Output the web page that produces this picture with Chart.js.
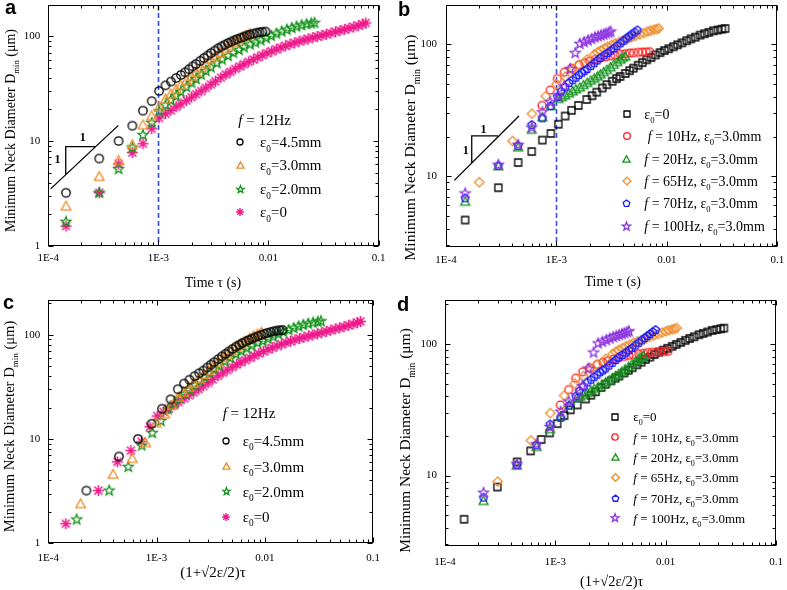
<!DOCTYPE html>
<html>
<head>
<meta charset="utf-8">
<script src="https://cdn.jsdelivr.net/npm/chart.js@4.4.0/dist/chart.umd.min.js"></script>
<style>
html,body{margin:0;padding:0;background:#fff;}
#wrap{position:relative;width:787px;height:590px;overflow:hidden;background:#fff;}
canvas{position:absolute;}
</style>
</head>
<body>
<div id="wrap">
<canvas id="pa" width="393" height="295" style="left:0;top:0"></canvas>
<canvas id="pb" width="394" height="295" style="left:393px;top:0"></canvas>
<canvas id="pc" width="393" height="295" style="left:0;top:295px"></canvas>
<canvas id="pd" width="394" height="295" style="left:393px;top:295px"></canvas>
</div>
<script>
// axis ticks
const xTickVals=[1e-4,1e-3,1e-2,1e-1];
const xTickLabels=['1E-4','1E-3','0.01','0.1'];
const yTickValsAC=[1,10,100];
const yTickLabelsAC=['1','10','100'];
const yTickValsBD=[10,100];
const yTickLabelsBD=['10','100'];

// panel a: time (s) and neck diameter (um), f = 12Hz
const aT45=[1.45e-4,2.9e-4,4.35e-4,5.8e-4,7.25e-4,8.7e-4,1.015e-3,1.16e-3,1.3e-3,1.45e-3,1.6e-3,1.75e-3,1.9e-3,2.05e-3,2.2e-3,2.4e-3,2.6e-3,2.8e-3,3.0e-3,3.25e-3,3.5e-3,3.75e-3,4.0e-3,4.3e-3,4.6e-3,4.9e-3,5.2e-3,5.6e-3,6.0e-3,6.4e-3,6.8e-3,7.3e-3,7.8e-3,8.3e-3,8.8e-3,9.4e-3];
const aD45=[3.2,6.8,10,14,19.5,24,30,34,37,40,42.7,45.3,48.5,51.7,54.5,58.3,62,65.5,69,73,76.8,80,83,86.2,89,91.5,94,96.8,99.5,102,104,106,108,109.3,110.3,111];
const aT30=[1.45e-4,2.9e-4,4.35e-4,5.8e-4,7.25e-4,8.7e-4,1.015e-3,1.16e-3,1.3e-3,1.45e-3,1.6e-3,1.8e-3,2.0e-3,2.2e-3,2.45e-3,2.7e-3,3.0e-3,3.3e-3,3.6e-3,4.0e-3,4.4e-3,4.8e-3,5.3e-3,5.8e-3,6.3e-3,6.8e-3];
const aD30=[2.38,4.56,6.47,9.16,14.2,17.3,21,25,28,31,34,37.5,41.5,45,50,54.5,60,65,70,76,81,86,92,97,101,105];
const aT20=[1.45e-4,2.9e-4,4.35e-4,5.8e-4,7.25e-4,8.7e-4,1.015e-3,1.16e-3,1.3e-3,1.45e-3,1.6e-3,1.8e-3,2.0e-3,2.2e-3,2.45e-3,2.7e-3,3.0e-3,3.4e-3,3.8e-3,4.3e-3,4.8e-3,5.4e-3,6.0e-3,6.8e-3,7.6e-3,8.5e-3,9.5e-3,1.06e-2,1.18e-2,1.32e-2,1.47e-2,1.63e-2,1.8e-2,2.0e-2,2.22e-2,2.45e-2,2.62e-2];
const aD20=[1.69,3.2,5.4,8.65,11.4,14.9,19.2,22,24.5,27,29.5,32.7,36,39,43,46.5,50.5,55.5,60,65,69.5,74,78.5,83.5,87,91.5,96,101,106,111,115.5,120,124,127.5,130.5,133,134.5];
const aT00=[1.45e-4,2.9e-4,4.35e-4,5.8e-4,7.25e-4,8.7e-4,1.015e-3,1.16e-3,1.3e-3,1.45e-3,1.6e-3,1.8e-3,2.0e-3,2.2e-3,2.45e-3,2.7e-3,3.0e-3,3.3e-3,3.7e-3,4.1e-3,4.5e-3,5.0e-3,5.5e-3,6.0e-3,6.6e-3,7.3e-3,8.0e-3,8.8e-3,9.7e-3,1.07e-2,1.18e-2,1.3e-2,1.43e-2,1.57e-2,1.73e-2,1.9e-2,2.1e-2,2.3e-2,2.53e-2,2.78e-2,3.06e-2,3.36e-2,3.7e-2,4.07e-2,4.47e-2,4.92e-2,5.4e-2,5.95e-2,6.55e-2,7.2e-2,7.65e-2];
const aD00=[1.54,3.2,6.03,7.74,9.42,13.1,16.6,18.2,19.6,21.2,22.6,24.4,26.2,28,30,32.2,34.6,37.2,40.3,43.2,45.8,48.8,51.6,54.2,57,60,63,66,69,72,75,78,81,84,86.5,89.5,92,94.5,97,99.5,102,104.5,107.5,110.5,113.5,116.5,119.5,123,126.5,130.5,134];

// panel c: scaled time (1+sqrt2 e/2)tau, same diameters as panel a
const cT45=[2.25e-4,4.5e-4,6.74e-4,8.99e-4,1.124e-3,1.349e-3,1.573e-3,1.798e-3,2.015e-3,2.248e-3,2.48e-3,2.713e-3,2.945e-3,3.178e-3,3.41e-3,3.72e-3,4.03e-3,4.34e-3,4.65e-3,5.038e-3,5.425e-3,5.813e-3,6.2e-3,6.665e-3,7.13e-3,7.595e-3,8.06e-3,8.68e-3,9.3e-3,9.92e-3,1.054e-2,1.1315e-2,1.209e-2,1.2865e-2,1.364e-2,1.457e-2];
const cT30=[1.99e-4,3.97e-4,5.96e-4,7.95e-4,9.93e-4,1.192e-3,1.391e-3,1.589e-3,1.781e-3,1.987e-3,2.192e-3,2.466e-3,2.74e-3,3.014e-3,3.357e-3,3.699e-3,4.11e-3,4.521e-3,4.932e-3,5.48e-3,6.028e-3,6.576e-3,7.261e-3,7.946e-3,8.631e-3,9.316e-3];
const cT20=[1.827e-4,3.654e-4,5.481e-4,7.308e-4,9.135e-4,1.096e-3,1.279e-3,1.462e-3,1.638e-3,1.827e-3,2.016e-3,2.268e-3,2.52e-3,2.772e-3,3.087e-3,3.402e-3,3.78e-3,4.284e-3,4.788e-3,5.418e-3,6.048e-3,6.804e-3,7.56e-3,8.568e-3,9.576e-3,1.071e-2,1.197e-2,1.336e-2,1.487e-2,1.663e-2,1.852e-2,2.054e-2,2.268e-2,2.52e-2,2.797e-2,3.087e-2,3.301e-2];
const cT00=aT00;

// panel b: time (s), different frequencies
const bT0=[1.49e-4,2.98e-4,4.5e-4,5.97e-4,7.45e-4,8.9e-4,1.04e-3,1.2e-3,1.37e-3,1.58e-3,1.88e-3,2.1e-3,2.32e-3,2.6e-3,2.86e-3,3.2e-3,3.5e-3,3.77e-3,4.2e-3,4.6e-3,4.98e-3,5.5e-3,6.0e-3,6.57e-3,7.2e-3,7.9e-3,8.67e-3,9.5e-3,1.04e-2,1.145e-2,1.25e-2,1.37e-2,1.51e-2,1.65e-2,1.81e-2,2.0e-2,2.19e-2,2.4e-2,2.64e-2,2.9e-2,3.15e-2,3.37e-2];
const bD0=[4.65,8.18,12.7,15.4,18.8,21.1,24.8,28.6,31.6,34.4,38.2,40.8,43.4,46.7,49.5,52.5,55,57.1,60.2,63.2,66,69.5,72.8,76.4,79.5,83.2,86.7,89.8,92.7,96,99.3,102.8,106.6,110.2,113.5,117.7,120.5,123.5,126.8,128.7,130.5,132];
const bT10=[7.4e-4,8.8e-4,1.02e-3,1.18e-3,1.37e-3,1.6e-3,1.8e-3,2.0e-3,2.25e-3,2.5e-3,2.8e-3,3.1e-3,3.4e-3,3.8e-3,4.2e-3,4.6e-3,5.0e-3,5.5e-3,6.0e-3,6.5e-3,7.0e-3];
const bD10=[34.4,45,55,61.5,66,70,72.5,74.5,77,79,80.5,82,83,84.2,85,86,86.5,87,87.5,87.8,88];
const bT20=[1.49e-4,2.98e-4,4.5e-4,5.97e-4,7.45e-4,8.9e-4,1.04e-3,1.12e-3,1.2e-3,1.3e-3,1.4e-3,1.5e-3,1.63e-3,1.76e-3,1.9e-3,2.05e-3,2.2e-3,2.35e-3,2.5e-3,2.68e-3,2.86e-3,3.08e-3,3.3e-3,3.55e-3,3.8e-3,4.0e-3,4.2e-3];
const bD20=[6.4,11.9,16.5,22.5,28,34,38.5,39.7,41,42.5,44,45.5,47,49,51,53,55,57,59,61.5,64,67,70,73.3,76.5,79,81];
const bT65=[2.0e-4,4.0e-4,6.0e-4,8.0e-4,1.0e-3,1.2e-3,1.4e-3,1.6e-3,1.9e-3,2.2e-3,2.35e-3,2.5e-3,2.7e-3,2.9e-3,3.15e-3,3.4e-3,3.7e-3,4.0e-3,4.4e-3,4.8e-3,5.2e-3,5.7e-3,6.2e-3,6.7e-3,7.1e-3,7.6e-3,8.0e-3,8.4e-3];
const bD65=[9.0,18.5,29.8,40.5,50,57,64,70,77,84,87,90,93,96,99,102,104.5,107,110,113,116,119,122,125,127,129,130.5,132];
const bT70=[1.49e-4,2.98e-4,4.5e-4,5.97e-4,7.45e-4,8.87e-4,1.02e-3,1.1e-3,1.2e-3,1.3e-3,1.4e-3,1.5e-3,1.6e-3,1.7e-3,1.8e-3,1.9e-3,2.05e-3,2.2e-3,2.35e-3,2.5e-3,2.7e-3,2.9e-3,3.1e-3,3.3e-3,3.55e-3,3.8e-3,4.05e-3,4.3e-3,4.55e-3,4.8e-3,5.1e-3,5.4e-3];
const bD70=[6.8,12,17,24.5,27.5,34,40,44,47.5,51,53.5,56,58.5,61,63,65,68.5,72,75.5,79,82.5,86,89.5,93,97.5,102,106.5,111,115,119,123.5,128];
const bT100=[1.49e-4,2.98e-4,4.5e-4,5.97e-4,7.45e-4,8.8e-4,1.04e-3,1.17e-3,1.33e-3,1.48e-3,1.63e-3,1.78e-3,1.93e-3,2.08e-3,2.23e-3,2.38e-3,2.53e-3,2.68e-3,2.83e-3,2.98e-3,3.1e-3];
const bD100=[7.4,12.2,17.3,23.4,30.6,36.5,41,48,65,86,101,104,107,110,113,115,117,119,121,123,125];

// panel d: scaled time, same diameters as panel b
const dT0=bT0;
const dT10=[1.11e-3,1.32e-3,1.53e-3,1.77e-3,2.055e-3,2.4e-3,2.7e-3,3.0e-3,3.375e-3,3.75e-3,4.2e-3,4.65e-3,5.1e-3,5.7e-3,6.3e-3,6.9e-3,7.5e-3,8.25e-3,9.0e-3,9.75e-3,1.05e-2];
const dT20=[2.235e-4,4.47e-4,6.75e-4,8.955e-4,1.118e-3,1.335e-3,1.56e-3,1.68e-3,1.8e-3,1.95e-3,2.1e-3,2.25e-3,2.445e-3,2.64e-3,2.85e-3,3.075e-3,3.3e-3,3.525e-3,3.75e-3,4.02e-3,4.29e-3,4.62e-3,4.95e-3,5.325e-3,5.7e-3,6.0e-3,6.3e-3];
const dT65=[3.0e-4,6.0e-4,9.0e-4,1.2e-3,1.5e-3,1.8e-3,2.1e-3,2.4e-3,2.85e-3,3.3e-3,3.525e-3,3.75e-3,4.05e-3,4.35e-3,4.725e-3,5.1e-3,5.55e-3,6.0e-3,6.6e-3,7.2e-3,7.8e-3,8.55e-3,9.3e-3,1.005e-2,1.065e-2,1.14e-2,1.2e-2,1.26e-2];
const dT70=[2.235e-4,4.47e-4,6.75e-4,8.955e-4,1.118e-3,1.331e-3,1.53e-3,1.65e-3,1.8e-3,1.95e-3,2.1e-3,2.25e-3,2.4e-3,2.55e-3,2.7e-3,2.85e-3,3.075e-3,3.3e-3,3.525e-3,3.75e-3,4.05e-3,4.35e-3,4.65e-3,4.95e-3,5.325e-3,5.7e-3,6.075e-3,6.45e-3,6.825e-3,7.2e-3,7.65e-3,8.1e-3];
const dT100=[2.235e-4,4.47e-4,6.75e-4,8.955e-4,1.118e-3,1.32e-3,1.56e-3,1.755e-3,1.995e-3,2.22e-3,2.445e-3,2.67e-3,2.895e-3,3.12e-3,3.345e-3,3.57e-3,3.795e-3,4.02e-3,4.245e-3,4.47e-3,4.65e-3];

const SERIF='"Liberation Serif"';
const cBlack='#000000',cOrange='#f08c28',cGreen='#12921a',cPink='#ee1a8c';
const cRed='#ff1c1c',cBlue='#1a1aff',cPurple='#8c34e0';

// marker sprites (drawn as canvas point styles)
function mk(shape,color,r,lw){
  const s=Math.ceil(2*r+lw+4);
  const c=document.createElement('canvas');
  c.width=c.height=s;
  const g=c.getContext('2d');
  const o=s/2;
  g.strokeStyle=color;g.lineWidth=lw;g.lineJoin='miter';
  g.beginPath();
  if(shape==='circle'){g.arc(o,o,r,0,Math.PI*2);}
  else if(shape==='square'){g.rect(o-r,o-r,2*r,2*r);}
  else if(shape==='tri'){g.moveTo(o,o-r*1.05);g.lineTo(o+r,o+r*0.75);g.lineTo(o-r,o+r*0.75);g.closePath();}
  else if(shape==='diamond'){g.moveTo(o,o-r);g.lineTo(o+r,o);g.lineTo(o,o+r);g.lineTo(o-r,o);g.closePath();}
  else if(shape==='pent'){for(let k=0;k<5;k++){const a=-Math.PI/2+k*2*Math.PI/5;const px=o+r*Math.cos(a),py=o+r*Math.sin(a);k?g.lineTo(px,py):g.moveTo(px,py);}g.closePath();}
  else if(shape==='star'){for(let k=0;k<10;k++){const a=-Math.PI/2+k*Math.PI/5;const rr=k%2?r*0.42:r;const px=o+rr*Math.cos(a),py=o+rr*Math.sin(a);k?g.lineTo(px,py):g.moveTo(px,py);}g.closePath();}
  else if(shape==='ast'){for(let k=0;k<4;k++){const a=k*Math.PI/4;g.moveTo(o-r*Math.cos(a),o-r*Math.sin(a));g.lineTo(o+r*Math.cos(a),o+r*Math.sin(a));}}
  g.stroke();
  return c;
}

function rich(ctx,parts,x,y,size,align){
  const f=p=>(p[1].includes('i')?'italic ':'')+(p[1].includes('b')?'bold ':'')+(p[1].includes('s')?size*0.62:size)+'px '+SERIF;
  let w=0;
  parts.forEach(p=>{ctx.font=f(p);w+=ctx.measureText(p[0]).width;});
  let cx=align==='center'?x-w/2:x;
  ctx.textAlign='left';ctx.textBaseline='alphabetic';ctx.fillStyle='#000';
  parts.forEach(p=>{ctx.font=f(p);ctx.fillText(p[0],cx,y+(p[1].includes('s')?size*0.32:0));cx+=ctx.measureText(p[0]).width;});
}

const yTitle=[['Minimum Neck Diameter D',''],['min','s'],[' (\u03bcm)','']];
const eps=(v)=>[['\u03b5',''],['0','s'],['='+v,'']];
const fe=(f,lead)=>[[lead?' ':'',''],['f','i'],[' = '+f+', \u03b5',''],['0','s'],['=3.0mm','']];

const decoCfg={
  pa:{letter:['a',5,13.5],yt:[10,130.5,14],xt:[[['Time \u03c4 (s)','']],213,282,14],dashX:1e-3,
    slope:{line:[[1.05e-4,3.49],[4.33e-4,14.1]],tri:[[1.44e-4,4.78],[1.44e-4,8.83],[2.7e-4,8.83]],labels:[[2.06e-4,10.7],[1.21e-4,6.56]]},
    legend:{mx:240,tx:260,size:15,header:[238.3,120,[['f','i'],[' = 12Hz','']]],
      items:[[mk('circle',cBlack,3,1.3),142,eps('4.5mm')],[mk('tri',cOrange,3.5,1.3),165.5,eps('3.0mm')],[mk('star',cGreen,3.8,1.3),189,eps('2.0mm')],[mk('ast',cPink,3.9,1.4),212,eps('0')]]}},
  pb:{letter:['b',5,16],yt:[16.5,147.5,15.6],xt:[[['Time \u03c4 (s)','']],219.7,281.7,14],dashX:1e-3,
    slope:{line:[[1.19e-4,9.3],[4.58e-4,28.6]],tri:[[1.71e-4,12.6],[1.71e-4,20.2],[2.95e-4,20.2]],labels:[[2.18e-4,22.4],[1.51e-4,15.6]]},
    legend:{mx:233.7,tx:251.3,size:14,header:null,
      items:[[mk('square',cBlack,3,1.3),114,eps('0')],[mk('circle',cRed,3.3,1.3),136,fe('10Hz',true)],[mk('tri',cGreen,3.6,1.3),159.3,fe('20Hz')],[mk('diamond',cOrange,3.9,1.3),181,fe('65Hz')],[mk('pent',cBlue,3.5,1.3),203.3,fe('70Hz')],[mk('star',cPurple,4.4,1.3),226,fe('100Hz')]]}},
  pc:{letter:['c',3,13.5],yt:[9,131.5,14.6],xt:[[['(1+\u221a2\u03b5/2)\u03c4','']],213,276.7,15],
    legend:{mx:226,tx:242.7,size:15,header:[222.7,117.7,[['f','i'],[' = 12Hz','']]],
      items:[[mk('circle',cBlack,3,1.3),145.7,eps('4.5mm')],[mk('tri',cOrange,3.5,1.3),171.7,eps('3.0mm')],[mk('star',cGreen,3.8,1.3),196.7,eps('2.0mm')],[mk('ast',cPink,3.9,1.4),221.7,eps('0')]]}},
  pd:{letter:['d',4,16],yt:[12,145.5,15.5],xt:[[['(1+\u221a2\u03b5/2)\u03c4','']],218.7,286,14.5],
    legend:{mx:222,tx:240.3,size:13,header:null,
      items:[[mk('square',cBlack,3,1.3),121.7,eps('0')],[mk('circle',cRed,3.2,1.3),142.3,fe('10Hz')],[mk('tri',cGreen,3.5,1.3),162.7,fe('20Hz')],[mk('diamond',cOrange,3.8,1.3),182.7,fe('65Hz')],[mk('pent',cBlue,3.4,1.3),203.3,fe('70Hz')],[mk('star',cPurple,4.2,1.3),223.3,fe('100Hz')]]}}
};

const deco={
  id:'deco',
  beforeDatasetsDraw(chart){
    const o=decoCfg[chart.canvas.id];if(!o||!o.dashX)return;
    const ctx=chart.ctx,{top,bottom}=chart.chartArea;
    const x=Math.round(chart.scales.x.getPixelForValue(o.dashX))+0.5;
    ctx.save();ctx.strokeStyle='#3050ff';ctx.lineWidth=1.6;ctx.setLineDash([5,3]);
    ctx.beginPath();ctx.moveTo(x,top);ctx.lineTo(x,bottom);ctx.stroke();ctx.restore();
  },
  afterDraw(chart){
    const o=decoCfg[chart.canvas.id];if(!o)return;
    const ctx=chart.ctx,xs=chart.scales.x,ys=chart.scales.y;
    const {left,right,top,bottom}=chart.chartArea;
    ctx.save();
    ctx.strokeStyle='#000';ctx.lineWidth=1;ctx.setLineDash([]);
    const L=Math.round(left)+0.5,R=Math.round(right)-0.5,T=Math.round(top)+0.5,B=Math.round(bottom)-0.5;
    ctx.strokeRect(L,T,R-L,B-T);
    ctx.beginPath();
    for(let d=Math.floor(Math.log10(xs.min));d<=Math.ceil(Math.log10(xs.max));d++){
      for(let m=1;m<=9;m++){const v=m*Math.pow(10,d);if(v<xs.min*0.999||v>xs.max*1.001)continue;
        const p=Math.round(xs.getPixelForValue(v))+0.5,len=m===1?5:3;
        ctx.moveTo(p,B);ctx.lineTo(p,B-len);ctx.moveTo(p,T);ctx.lineTo(p,T+len);}
    }
    for(let d=Math.floor(Math.log10(ys.min));d<=Math.ceil(Math.log10(ys.max));d++){
      for(let m=1;m<=9;m++){const v=m*Math.pow(10,d);if(v<ys.min*0.999||v>ys.max*1.001)continue;
        const p=Math.round(ys.getPixelForValue(v))+0.5,len=m===1?5:3;
        ctx.moveTo(L,p);ctx.lineTo(L+len,p);ctx.moveTo(R,p);ctx.lineTo(R-len,p);}
    }
    ctx.stroke();
    if(o.slope){
      const P=q=>[xs.getPixelForValue(q[0]),ys.getPixelForValue(q[1])];
      ctx.lineWidth=1.3;ctx.beginPath();
      let a=P(o.slope.line[0]),b=P(o.slope.line[1]);ctx.moveTo(a[0],a[1]);ctx.lineTo(b[0],b[1]);
      o.slope.tri.forEach((q,i)=>{const p=P(q);i?ctx.lineTo(p[0],p[1]):ctx.moveTo(p[0],p[1]);});
      ctx.stroke();
      ctx.fillStyle='#000';ctx.font='bold 12px '+SERIF;ctx.textAlign='center';ctx.textBaseline='middle';
      o.slope.labels.forEach(q=>{const p=P(q);ctx.fillText('1',p[0],p[1]);});
    }
    // axis titles
    ctx.save();ctx.translate(o.yt[0],o.yt[1]);ctx.rotate(-Math.PI/2);
    rich(ctx,yTitle,0,o.yt[2]*0.33,o.yt[2],'center');ctx.restore();
    rich(ctx,o.xt[0],o.xt[1],o.xt[2]+o.xt[3]*0.33,o.xt[3],'center');
    // legend
    const lg=o.legend;
    if(lg.header)rich(ctx,lg.header[2],lg.header[0],lg.header[1]+lg.size*0.33,lg.size,'left');
    lg.items.forEach(it=>{
      const img=it[0];
      ctx.drawImage(img,Math.round(lg.mx-img.width/2),Math.round(it[1]-img.height/2));
      rich(ctx,it[2],lg.tx,it[1]+lg.size*0.33,lg.size,'left');
    });
    ctx.fillStyle='#000';ctx.font='bold 20px "Liberation Sans"';ctx.textAlign='left';ctx.textBaseline='alphabetic';
    ctx.fillText(o.letter[0],o.letter[1],o.letter[2]);
    ctx.restore();
  }
};
Chart.register(deco);

function panel(id,sets,yMin,yMax,yVals,yLabs,box){
  return new Chart(document.getElementById(id),{
    type:'scatter',
    data:{datasets:sets.map(s=>({label:s.label,data:s.x.map((v,j)=>({x:v,y:s.y[j]})),pointStyle:s.img,pointRadius:4,order:s.order,showLine:false}))},
    options:{
      responsive:false,animation:false,events:[],
      layout:{padding:{left:0,top:box.t,right:box.w-box.r,bottom:0}},
      plugins:{legend:{display:false},tooltip:{enabled:false}},
      scales:{
        x:{type:'logarithmic',min:1e-4,max:0.1,grid:{display:false,drawTicks:false},border:{display:false},
          afterBuildTicks:sc=>{sc.ticks=xTickVals.map(v=>({value:v}));},
          afterFit:sc=>{sc.height=box.h-box.b;sc.paddingLeft=0;sc.paddingRight=0;sc.paddingTop=0;sc.paddingBottom=0;},
          ticks:{autoSkip:false,maxRotation:0,padding:box.xPad,color:'#000',font:{family:'Liberation Serif',size:11},callback:(v,i)=>xTickLabels[i]}},
        y:{type:'logarithmic',min:yMin,max:yMax,grid:{display:false,drawTicks:false},border:{display:false},
          afterBuildTicks:sc=>{sc.ticks=yVals.map(v=>({value:v}));},
          afterFit:sc=>{sc.width=box.l;sc.paddingLeft=0;sc.paddingRight=0;sc.paddingTop=0;sc.paddingBottom=0;},
          ticks:{autoSkip:false,padding:box.yPad,color:'#000',font:{family:'Liberation Serif',size:11},callback:(v,i)=>yLabs[i]}}
      }
    }
  });
}

panel('pa',[
  {label:'e0=4.5mm',x:aT45,y:aD45,img:mk('circle',cBlack,4.2,1.3),order:0},
  {label:'e0=3.0mm',x:aT30,y:aD30,img:mk('tri',cOrange,4.8,1.3),order:1},
  {label:'e0=2.0mm',x:aT20,y:aD20,img:mk('star',cGreen,5.2,1.3),order:2},
  {label:'e0=0',x:aT00,y:aD00,img:mk('ast',cPink,5.6,1.5),order:3}
],1,199,yTickValsAC,yTickLabelsAC,{w:393,h:295,l:48.3,r:378.5,t:2.7,b:245.7,xPad:6,yPad:8});

panel('pb',[
  {label:'e0=0',x:bT0,y:bD0,img:mk('square',cBlack,3.5,1.3),order:5},
  {label:'10Hz',x:bT10,y:bD10,img:mk('circle',cRed,3.9,1.3),order:4},
  {label:'20Hz',x:bT20,y:bD20,img:mk('tri',cGreen,4.5,1.3),order:3},
  {label:'65Hz',x:bT65,y:bD65,img:mk('diamond',cOrange,4.7,1.3),order:2},
  {label:'70Hz',x:bT70,y:bD70,img:mk('pent',cBlue,4.1,1.3),order:1},
  {label:'100Hz',x:bT100,y:bD100,img:mk('star',cPurple,5.2,1.3),order:0}
],2.92,199,yTickValsBD,yTickLabelsBD,{w:394,h:295,l:53,r:384.3,t:3,b:246.7,xPad:7,yPad:9});

panel('pc',[
  {label:'e0=4.5mm',x:cT45,y:aD45,img:mk('circle',cBlack,4.2,1.3),order:0},
  {label:'e0=3.0mm',x:cT30,y:aD30,img:mk('tri',cOrange,4.8,1.3),order:1},
  {label:'e0=2.0mm',x:cT20,y:aD20,img:mk('star',cGreen,5.2,1.3),order:2},
  {label:'e0=0',x:cT00,y:aD00,img:mk('ast',cPink,5.6,1.5),order:3}
],1,215,yTickValsAC,yTickLabelsAC,{w:393,h:295,l:48.3,r:373,t:2.7,b:248.3,xPad:8,yPad:8});

panel('pd',[
  {label:'e0=0',x:dT0,y:bD0,img:mk('square',cBlack,3.5,1.3),order:5},
  {label:'10Hz',x:dT10,y:bD10,img:mk('circle',cRed,3.9,1.3),order:4},
  {label:'20Hz',x:dT20,y:bD20,img:mk('tri',cGreen,4.5,1.3),order:3},
  {label:'65Hz',x:dT65,y:bD65,img:mk('diamond',cOrange,4.7,1.3),order:2},
  {label:'70Hz',x:dT70,y:bD70,img:mk('pent',cBlue,4.1,1.3),order:1},
  {label:'100Hz',x:dT100,y:bD100,img:mk('star',cPurple,5.2,1.3),order:0}
],2.93,216,yTickValsBD,yTickLabelsBD,{w:394,h:295,l:52,r:383,t:2.7,b:250.7,xPad:10,yPad:8});
</script>
</body>
</html>
